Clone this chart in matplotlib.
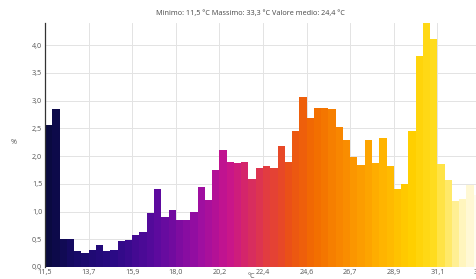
import numpy as np
import matplotlib
matplotlib.use("Agg")
import matplotlib.pyplot as plt
from matplotlib.colors import LinearSegmentedColormap

# -------------------------------------------------------------------------------------
# Data: temperature distribution (% of time per bin)
# -------------------------------------------------------------------------------------
t_min = 11.5
t_max = 33.3
n_bins = 60

percent = [
    2.56, 2.85, 0.51, 0.50, 0.29, 0.26, 0.31, 0.39, 0.28, 0.30,
    0.47, 0.49, 0.58, 0.64, 0.97, 1.40, 0.91, 1.02, 0.85, 0.84,
    1.00, 1.45, 1.21, 1.75, 2.11, 1.90, 1.88, 1.90, 1.59, 1.78,
    1.82, 1.78, 2.18, 1.90, 2.45, 3.07, 2.68, 2.86, 2.86, 2.85,
    2.52, 2.29, 1.99, 1.84, 2.29, 1.88, 2.32, 1.82, 1.41, 1.50,
    2.45, 3.80, 4.40, 4.12, 1.86, 1.57, 1.19, 1.23, 1.48, 1.30,
]

x_tick_labels = ["11,5", "13,7", "15,9", "18,0", "20,2", "22,4",
                 "24,6", "26,7", "28,9", "31,1", "33,3"]
y_tick_labels = ["0,0", "0,5", "1,0", "1,5", "2,0", "2,5", "3,0", "3,5", "4,0"]

title = "Minimo: 11,5 °C Massimo: 33,3 °C Valore medio: 24,4 °C"

# -------------------------------------------------------------------------------------
# Colour ramp (dark navy -> purple -> magenta -> orange -> yellow -> pale)
# -------------------------------------------------------------------------------------
cmap = LinearSegmentedColormap.from_list("temp", [
    (0.00, "#0a0a40"),
    (0.06, "#170a66"),
    (0.15, "#2a0a84"),
    (0.25, "#5a0a9e"),
    (0.35, "#9a0ea2"),
    (0.42, "#c8148c"),
    (0.50, "#e03848"),
    (0.56, "#ea5018"),
    (0.62, "#f26c00"),
    (0.70, "#fa9000"),
    (0.78, "#ffb400"),
    (0.85, "#ffd000"),
    (0.90, "#ffdc20"),
    (0.93, "#ffe860"),
    (0.96, "#fff3b0"),
    (1.00, "#fffcec"),
])

plt.rcParams["font.family"] = ["Open Sans", "DejaVu Sans"]

edges = np.linspace(t_min, t_max, n_bins + 1)
widths = np.diff(edges)
colors = [cmap(i / (n_bins - 1)) for i in range(n_bins)]

fig = plt.figure(figsize=(4.77, 2.79), dpi=100)
ax = fig.add_axes([45 / 477, 12 / 279, 436 / 477, 244 / 279])

ax.bar(edges[:-1], percent, width=widths, align="edge", color=colors,
       edgecolor="none", linewidth=0, zorder=2)

ax.set_xlim(t_min, t_max)
ax.set_ylim(0, 4.4)
ax.set_xticks(np.linspace(t_min, t_max, len(x_tick_labels)))
ax.set_xticklabels(x_tick_labels)
ax.set_yticks(np.arange(len(y_tick_labels)) * 0.5)
ax.set_yticklabels(y_tick_labels)
ax.tick_params(axis="both", length=0, labelsize=5.2, labelcolor="#555555", pad=2)
ax.tick_params(axis="x", pad=1.5)

ax.grid(True, color="#e3e3e3", linewidth=0.7, zorder=0)
ax.set_axisbelow(True)
for side in ["top", "right", "bottom"]:
    ax.spines[side].set_visible(False)
ax.spines["left"].set_color("#333333")
ax.spines["left"].set_linewidth(0.9)

fig.text(250 / 477, 1 - 13 / 279, title, ha="center", va="center",
         fontsize=5.2, color="#444444")
fig.text(14 / 477, 1 - 142 / 279, "%", ha="center", va="center",
         fontsize=5.2, color="#555555")
fig.text(251 / 477, 1 - 276 / 279, "°C", ha="center", va="center",
         fontsize=5.2, color="#555555")

fig.savefig("out.png", dpi=100)
